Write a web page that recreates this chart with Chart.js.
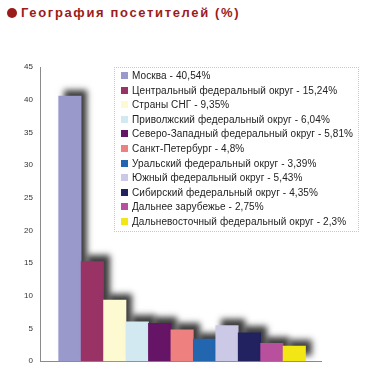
<!DOCTYPE html>
<html>
<head>
<meta charset="utf-8">
<script src="https://cdn.jsdelivr.net/npm/chart.js@4/dist/chart.umd.min.js"></script>
<style>
  html, body { margin: 0; padding: 0; background: #fff; }
  body { width: 369px; height: 373px; position: relative; overflow: hidden; font-family: "Liberation Sans", Arial, sans-serif; }
  #title { position: absolute; left: 7px; top: 5px; font: bold 13px "Liberation Sans", Arial, sans-serif; letter-spacing: 1.65px; color: #9b1b1b; white-space: nowrap; }
  #title .dot { display: inline-block; width: 10px; height: 10px; border-radius: 50%; background: #9b1b1b; margin-right: 4px; vertical-align: -1px; }
  #wrap { position: absolute; left: 0; top: 0; width: 369px; height: 373px; }
  #legend { position: absolute; left: 114px; top: 67px; width: 245px; height: 165px; border: 1px dotted #c8c8c8; box-sizing: border-box; padding: 1px 0 0 6px; font: 10px "Liberation Sans", Arial, sans-serif; letter-spacing: 0.1px; color: #222; }
  #legend .item { height: 14.6px; line-height: 14.6px; white-space: nowrap; }
  #legend .box { display: inline-block; width: 7px; height: 7px; margin-right: 4px; vertical-align: 0px; }
</style>
</head>
<body>
<div id="title"><span class="dot"></span>География посетителей (%)</div>
<div id="wrap"><canvas id="c" width="369" height="373"></canvas></div>
<div id="legend"></div>
<script>
const categories = [
  "Москва",
  "Центральный федеральный округ",
  "Страны СНГ",
  "Приволжский федеральный округ",
  "Северо-Западный федеральный округ",
  "Санкт-Петербург",
  "Уральский федеральный округ",
  "Южный федеральный округ",
  "Сибирский федеральный округ",
  "Дальнее зарубежье",
  "Дальневосточный федеральный округ"
];
const valueLabels = ["40,54", "15,24", "9,35", "6,04", "5,81", "4,8", "3,39", "5,43", "4,35", "2,75", "2,3"];
const values = [40.54, 15.24, 9.35, 6.04, 5.81, 4.8, 3.39, 5.43, 4.35, 2.75, 2.3];
const colors = ["#9999cc", "#993366", "#fdf9d0", "#d2e9f2", "#661466", "#ee8080", "#2266b0", "#ccc9e6", "#222260", "#b8509e", "#f2e614"];
const yTicks = [0, 5, 10, 15, 20, 25, 30, 35, 40, 45];

// legend (HTML)
const lg = document.getElementById('legend');
categories.forEach((c, i) => {
  const d = document.createElement('div');
  d.className = 'item';
  const b = document.createElement('span');
  b.className = 'box';
  b.style.background = colors[i];
  d.appendChild(b);
  d.appendChild(document.createTextNode(c + ' - ' + valueLabels[i] + '%'));
  lg.appendChild(d);
});

const shadowPlugin = {
  id: 'barShadow',
  beforeDatasetsDraw(chart) {
    const ctx = chart.ctx;
    ctx.save();
    ctx.shadowColor = 'rgba(20,20,20,0.82)';
    ctx.shadowBlur = 6;
    ctx.shadowOffsetX = 6;
    ctx.shadowOffsetY = -6;
  },
  afterDatasetsDraw(chart) {
    chart.ctx.restore();
  }
};

new Chart(document.getElementById('c'), {
  type: 'bar',
  data: {
    datasets: [{
      data: values.map((v, i) => ({ x: i, y: v })),
      backgroundColor: colors,
      borderWidth: 0,
      barPercentage: 1,
      categoryPercentage: 1
    }]
  },
  options: {
    responsive: false,
    animation: false,
    events: [],
    layout: { padding: { left: 0, top: 67, right: 48, bottom: 11 } },
    plugins: { legend: { display: false }, tooltip: { enabled: false }, title: { display: false } },
    scales: {
      x: {
        type: 'linear',
        min: -1.333,
        max: 11.19,
        offset: false,
        grid: { display: false, drawTicks: false },
        border: { display: true, color: '#8a8a8a', width: 1 },
        ticks: { display: false },
        afterFit(s) { s.height = 0; }
      },
      y: {
        min: 0,
        max: 45,
        afterBuildTicks(s) { s.ticks = yTicks.map(v => ({ value: v })); },
        grid: { display: false, drawTicks: false },
        border: { display: true, color: '#8a8a8a', width: 1 },
        ticks: { padding: 7, color: '#333', font: { family: 'Liberation Sans, Arial, sans-serif', size: 8 } },
        afterFit(s) { s.width = 40; }
      }
    }
  },
  plugins: [shadowPlugin]
});
</script>
</body>
</html>
